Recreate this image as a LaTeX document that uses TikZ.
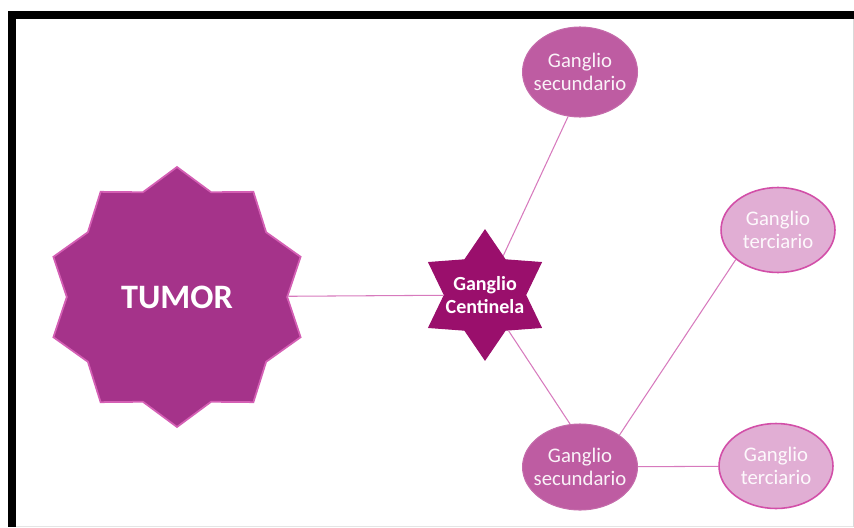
\documentclass[tikz,border=0pt]{standalone}
\usepackage{fontspec}
\setmainfont{Carlito}
\usetikzlibrary{shapes.geometric}

\definecolor{tumorfill}{HTML}{A5338A}
\definecolor{tumorline}{HTML}{D45FB4}
\definecolor{centfill}{HTML}{9A0F6C}
\definecolor{secfill}{HTML}{BE5CA2}
\definecolor{terfill}{HTML}{E1AED4}
\definecolor{terline}{HTML}{D24FA8}
\definecolor{conn}{HTML}{D77ABD}

\begin{document}
\begin{tikzpicture}[x=0.02cm, y=-0.02cm, every node/.style={align=center, inner sep=0pt}, tumorstar/.style={star, star points=10, star point ratio=1.18, minimum size=5.2cm, fill=tumorfill, draw=tumorline, line width=1pt, text=white, font=\fontsize{19.5}{22}\selectfont\bfseries}, centstar/.style={star, star points=6, star point ratio=1.6, minimum size=2.6cm, fill=centfill, draw=centfill, line width=0.6pt}, secnode/.style={ellipse, inner xsep=-5pt, minimum width=2.3cm, minimum height=1.8cm, fill=secfill, draw=secfill!90!white, line width=0.6pt, text=white!92!secfill, font=\fontsize{11.8}{13.5}\selectfont}, ternode/.style={ellipse, inner xsep=-5pt, minimum width=2.28cm, minimum height=1.7cm, fill=terfill, draw=terline, line width=0.9pt, text=white!92!terfill, font=\fontsize{11.8}{13.5}\selectfont}, conn/.style={draw=conn, line width=0.6pt}]
		\useasboundingbox (0,0) rectangle (854,527);
		\fill[black] (8,11) rectangle (854,19);
		\fill[black] (8,11) rectangle (16,527);
		\draw[black!15, line width=0.5pt] (853,19) -- (853,527);
		\draw[black!10, line width=0.5pt] (16,526) -- (853,526);
		
		\node[tumorstar] (tumor) at (177,297) {TUMOR};
		\node[centstar, label={[text=white, font=\fontsize{11.4}{13.5}\selectfont\bfseries, align=center]center:Ganglio\\Centinela}] (centinela) at (485,295) {};
		\node[secnode] (sec1) at (580,72) {Ganglio\\secundario};
		\node[secnode, minimum height=1.72cm] (sec2) at (580,467) {Ganglio\\secundario};
		\node[ternode] (ter1) at (778,230) {Ganglio\\terciario};
		\node[ternode] (ter2) at (776,466) {Ganglio\\terciario};
		
		\draw[conn] (tumor) -- (centinela);
		\draw[conn] (centinela) -- (sec1.255);
		\draw[conn] (centinela) -- (sec2.103);
		\draw[conn] (sec2.39) -- (ter1.215);
		\draw[conn] (sec2) -- (ter2);
		
	\end{tikzpicture}
\end{document}
